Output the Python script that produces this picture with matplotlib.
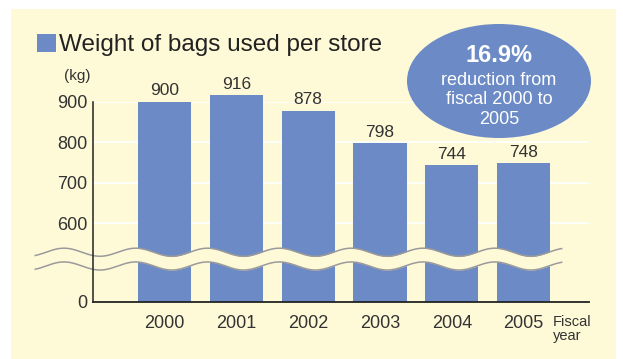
import numpy as np
import matplotlib
matplotlib.use("Agg")
import matplotlib.pyplot as plt
from matplotlib.patches import Rectangle, Ellipse

years = ["2000", "2001", "2002", "2003", "2004", "2005"]
weights = [900, 916, 878, 798, 744, 748]
tick_values = [0, 600, 700, 800, 900]

BG = "#fefad8"
BLUE = "#6b8ac6"
TXT = "#333333"
OFFSET = 405  # values above the break are shifted down by this

plt.rcParams["font.family"] = ["Liberation Sans", "DejaVu Sans"]

fig = plt.figure(figsize=(6.23, 3.59), dpi=100)
fig.patch.set_facecolor("white")
fig.patches.append(Rectangle((11 / 623, 0), 605 / 623, 350 / 359,
                             transform=fig.transFigure, facecolor=BG,
                             edgecolor="none", zorder=-1))

ax = fig.add_axes([93 / 623, 57 / 359, 496 / 623, 200.3 / 359])
ax.set_facecolor("none")
x = np.arange(len(years))
ax.set_xlim(-0.996, 5.91)
ax.set_ylim(0, 494.6)

def pseudo(v):
    return 0 if v == 0 else v - OFFSET

# white gridlines
for v in tick_values[1:]:
    ax.axhline(pseudo(v), color="white", lw=1.2, zorder=0.5)

heights = [w - OFFSET for w in weights]
ax.bar(x, heights, width=0.738, color=BLUE, zorder=2, clip_on=False)
for xi, w, h in zip(x, weights, heights):
    ax.text(xi, h + 8, str(w), ha="center", va="bottom", fontsize=12.5,
            color=TXT, zorder=5)

# wavy axis break
xs = np.linspace(-1.80, 5.53, 600)
wave = -10 * np.cos(2 * np.pi * (xs - 0.1))
top = 123 + wave
bot = 89 + wave
ax.fill_between(xs, bot, top, color=BG, zorder=2.2, clip_on=False, lw=0)
ax.plot(xs, top, color="#9a9a9a", lw=1.1, zorder=2.3, clip_on=False)
ax.plot(xs, bot, color="#9a9a9a", lw=1.1, zorder=2.3, clip_on=False)

for s in ["top", "right"]:
    ax.spines[s].set_visible(False)
ax.spines["left"].set_zorder(3)
ax.spines["bottom"].set_zorder(3)
ax.spines["left"].set_linewidth(1.1)
ax.spines["bottom"].set_linewidth(1.3)
ax.spines["left"].set_color("#222222")
ax.spines["bottom"].set_color("#222222")

ax.set_yticks([pseudo(v) for v in tick_values])
ax.set_yticklabels([str(v) for v in tick_values])
ax.set_xticks(x)
ax.set_xticklabels(years)
ax.tick_params(axis="y", length=0, pad=4, labelsize=13, labelcolor=TXT)
ax.tick_params(axis="x", length=0, pad=9, labelsize=13, labelcolor=TXT)

# unit and axis labels
fig.text(77 / 623, 1 - 76 / 359, "(kg)", ha="center", va="center",
         fontsize=11, color=TXT)
fig.text(553 / 623, 1 - 329 / 359, "Fiscal\nyear", ha="left", va="center",
         fontsize=10.5, color=TXT, linespacing=0.95)

# title with square marker
fig.patches.append(Rectangle((37 / 623, 1 - 52 / 359), 19 / 623, 18 / 359,
                             transform=fig.transFigure, facecolor=BLUE,
                             edgecolor="none", zorder=1))
fig.text(59 / 623, 1 - 45 / 359, "Weight of bags used per store", ha="left",
         va="center", fontsize=17.5, color="#222222")

# ellipse callout
fig.patches.append(Ellipse((499 / 623, 1 - 81 / 359), 184 / 623, 114 / 359,
                           transform=fig.transFigure, facecolor=BLUE,
                           edgecolor="none", zorder=1))
fig.text(499 / 623, 1 - 56 / 359, "16.9%", ha="center", va="center",
         fontsize=17, fontweight="bold", color="white")
fig.text(499 / 623, 1 - 100 / 359, "reduction from\nfiscal 2000 to\n2005",
         ha="center", va="center", fontsize=13, color="white",
         linespacing=1.2)

fig.savefig("out.png", dpi=100, facecolor=fig.get_facecolor())
